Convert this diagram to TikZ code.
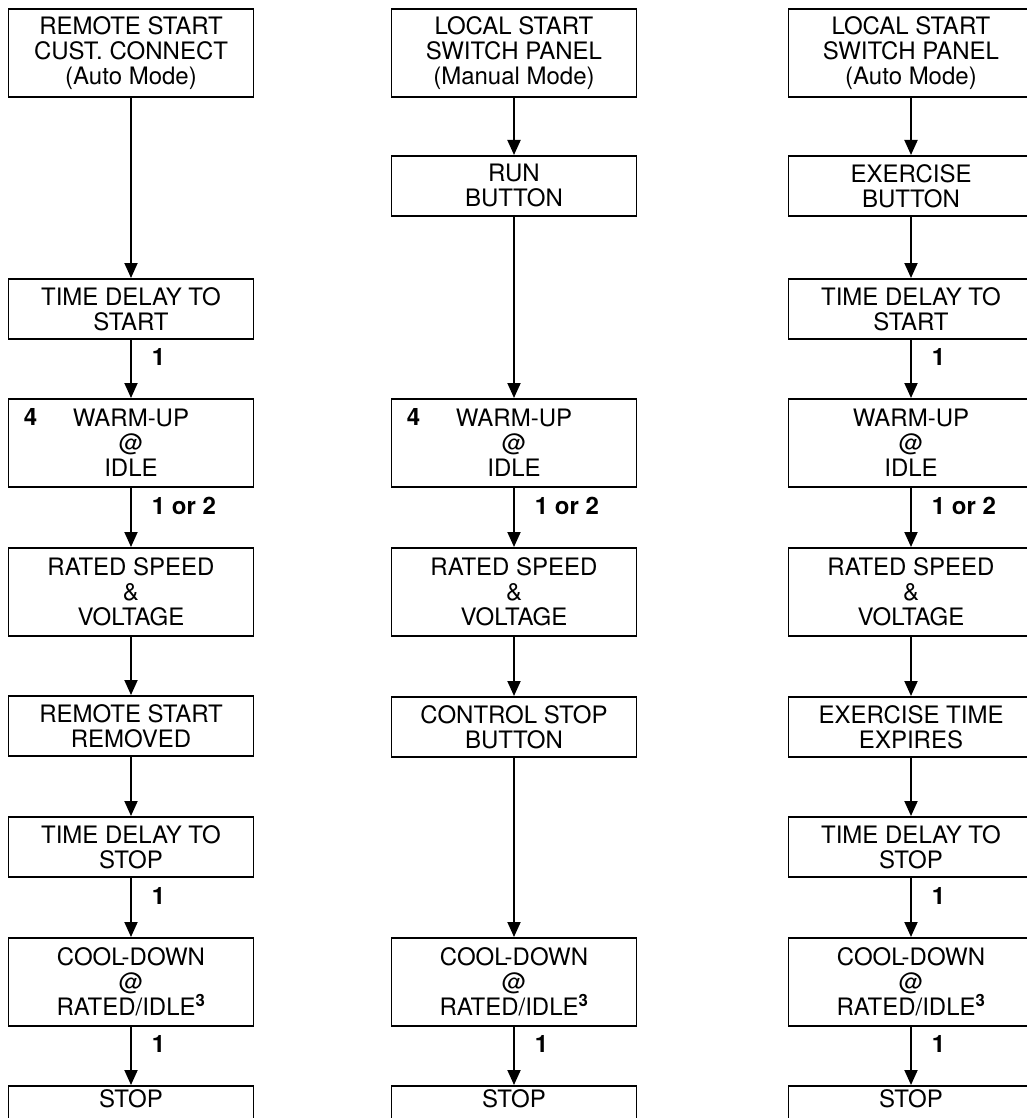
\documentclass[tikz,border=0pt]{standalone}
\usepackage{fontspec}
\setmainfont{TeX Gyre Heros}
\usetikzlibrary{positioning,arrows.meta}

\begin{document}
\begin{tikzpicture}[x=1pt,y=-1pt,
      every node/.style={font=\fontsize{24}{25}\selectfont},
      stepbox/.style={draw,line width=1.9pt,minimum width=245pt,inner sep=0pt,align=center,anchor=north},
      bigbox/.style={stepbox,minimum height=88pt},
      twobox/.style={stepbox,minimum height=60pt},
      endbox/.style={stepbox,minimum height=40pt,text depth=14pt},
      lbl/.style={font=\fontsize{24}{25}\selectfont\bfseries,inner sep=0pt},
      four/.style={label={[lbl,anchor=north west,xshift=16pt,yshift=-10pt]north west:4}},
      flow/.style={line width=1.9pt,-{Triangle[length=15pt,width=13pt]}}]

      \useasboundingbox (0,0) rectangle (1027,1118);

      % remote start
      \node[bigbox] (a1) at (131,8) {REMOTE START\\CUST. CONNECT\\(Auto Mode)};
      \node[twobox] (a2) at (131,278) {TIME DELAY TO\\START};
      \node[bigbox,four] (a3) at (131,398) {WARM-UP\\@\\IDLE};
      \node[bigbox] (a4) at (131,547) {RATED SPEED\\\&\\VOLTAGE};
      \node[twobox] (a5) at (131,695) {REMOTE START\\REMOVED};
      \node[twobox] (a6) at (131,816) {TIME DELAY TO\\STOP};
      \node[bigbox] (a7) at (131,937) {COOL-DOWN\\@\\RATED/IDLE\textsuperscript{\bfseries 3}};
      \node[endbox] (a8) at (131,1085) {STOP};

      \draw[flow] (a1) -- (a2);
      \draw[flow] (a2) -- (a3) node[lbl,pos=0.3,right=20pt] {1};
      \draw[flow] (a3) -- (a4) node[lbl,pos=0.3,right=20pt] {1 or 2};
      \draw[flow] (a4) -- (a5);
      \draw[flow] (a5) -- (a6);
      \draw[flow] (a6) -- (a7) node[lbl,pos=0.3,right=20pt] {1};
      \draw[flow] (a7) -- (a8) node[lbl,pos=0.3,right=20pt] {1};

      % local start, manual
      \node[bigbox] (b1) at (514,8) {LOCAL START\\SWITCH PANEL\\(Manual Mode)};
      \node[twobox] (b2) at (514,155) {RUN\\BUTTON};
      \node[bigbox,four] (b3) at (514,398) {WARM-UP\\@\\IDLE};
      \node[bigbox] (b4) at (514,547) {RATED SPEED\\\&\\VOLTAGE};
      \node[twobox] (b5) at (514,696) {CONTROL STOP\\BUTTON};
      \node[bigbox] (b6) at (514,937) {COOL-DOWN\\@\\RATED/IDLE\textsuperscript{\bfseries 3}};
      \node[endbox] (b7) at (514,1085) {STOP};

      \draw[flow] (b1) -- (b2);
      \draw[flow] (b2) -- (b3);
      \draw[flow] (b3) -- (b4) node[lbl,pos=0.3,right=20pt] {1 or 2};
      \draw[flow] (b4) -- (b5);
      \draw[flow] (b5) -- (b6);
      \draw[flow] (b6) -- (b7) node[lbl,pos=0.3,right=20pt] {1};

      % local start, auto
      \node[bigbox] (c1) at (911,8) {LOCAL START\\SWITCH PANEL\\(Auto Mode)};
      \node[twobox] (c2) at (911,155) {EXERCISE\\BUTTON};
      \node[twobox] (c3) at (911,278) {TIME DELAY TO\\START};
      \node[bigbox] (c4) at (911,398) {WARM-UP\\@\\IDLE};
      \node[bigbox] (c5) at (911,547) {RATED SPEED\\\&\\VOLTAGE};
      \node[twobox] (c6) at (911,696) {EXERCISE TIME\\EXPIRES};
      \node[twobox] (c7) at (911,816) {TIME DELAY TO\\STOP};
      \node[bigbox] (c8) at (911,937) {COOL-DOWN\\@\\RATED/IDLE\textsuperscript{\bfseries 3}};
      \node[endbox] (c9) at (911,1085) {STOP};

      \draw[flow] (c1) -- (c2);
      \draw[flow] (c2) -- (c3);
      \draw[flow] (c3) -- (c4) node[lbl,pos=0.3,right=20pt] {1};
      \draw[flow] (c4) -- (c5) node[lbl,pos=0.3,right=20pt] {1 or 2};
      \draw[flow] (c5) -- (c6);
      \draw[flow] (c6) -- (c7);
      \draw[flow] (c7) -- (c8) node[lbl,pos=0.3,right=20pt] {1};
      \draw[flow] (c8) -- (c9) node[lbl,pos=0.3,right=20pt] {1};

    \end{tikzpicture}
\end{document}
